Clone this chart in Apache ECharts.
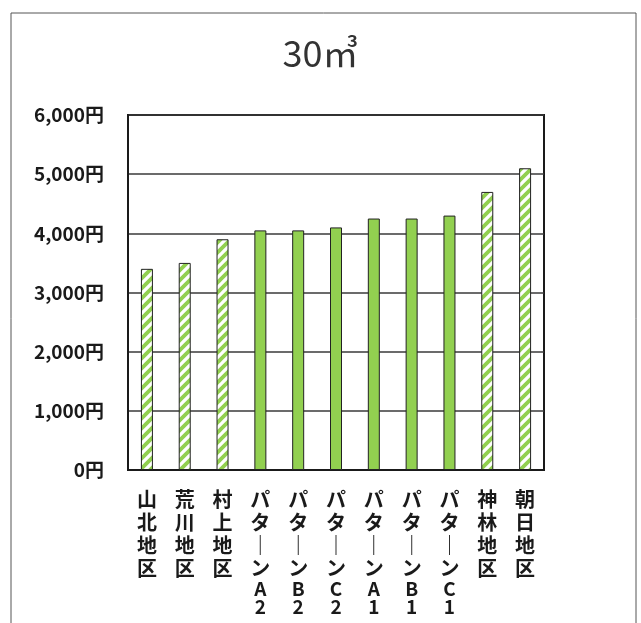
<!DOCTYPE html>
<html>
<head>
<meta charset="utf-8">
<script src="https://cdn.jsdelivr.net/npm/echarts@6/dist/echarts.min.js"></script>
<style>
html,body{margin:0;padding:0;background:#fff;}
#chart{width:641px;height:623px;}
</style>
</head>
<body>
<div id="chart"></div>
<script>
const titleText = '30㎥';
const categories = ['山北地区','荒川地区','村上地区','パターンA2','パターンB2','パターンC2','パターンA1','パターンB1','パターンC1','神林地区','朝日地区'];
const costs = [3400, 3500, 3900, 4050, 4050, 4100, 4250, 4250, 4300, 4700, 5100];
const districtCategories = ['山北地区','荒川地区','村上地区','神林地区','朝日地区'];
const yTicks = [0, 1000, 2000, 3000, 4000, 5000, 6000];

const GREEN = '#92D050';
function stripeCanvas() {
  const c = document.createElement('canvas');
  const s = 10;
  c.width = s; c.height = s;
  const g = c.getContext('2d');
  g.fillStyle = '#ffffff';
  g.fillRect(0, 0, s, s);
  g.strokeStyle = GREEN;
  g.lineWidth = 3.8;
  g.beginPath();
  g.moveTo(-s, s); g.lineTo(s, -s);
  g.moveTo(0, 2*s); g.lineTo(2*s, 0);
  g.moveTo(0, s); g.lineTo(s, 0);
  g.stroke();
  return c;
}
const stripe = stripeCanvas();

const chart = echarts.init(document.getElementById('chart'));
const font = '"Noto Sans CJK JP", "Noto Sans", sans-serif';

chart.setOption({
  backgroundColor: '#ffffff',
  animation: false,
  graphic: [{
    type: 'rect',
    shape: { x: 11, y: 13, width: 625, height: 640 },
    style: { fill: null, stroke: '#555', lineWidth: 1 },
    silent: true, z: -1
  }],
  title: {
    text: titleText,
    left: 'center',
    top: 30,
    textStyle: { fontFamily: font, fontSize: 36, fontWeight: 'normal', color: '#333' }
  },
  grid: {
    left: 128, right: 97, top: 115, bottom: 153,
    show: true, borderColor: '#1a1a1a', borderWidth: 2, backgroundColor: 'transparent'
  },
  xAxis: {
    type: 'category',
    data: categories,
    axisLine: { lineStyle: { color: '#1a1a1a', width: 2 } },
    axisTick: { show: false },
    axisLabel: {
      interval: 0,
      margin: 18,
      color: '#1a1a1a',
      formatter: v => v.replace(/ー/g, '｜').split('')
        .map(ch => (/[A-Za-z0-9]/.test(ch) ? '{a|' + ch + '}' : '{k|' + ch + '}'))
        .join('\n'),
      rich: {
        k: { fontFamily: font, fontSize: 20, fontWeight: 'bold', lineHeight: 23, color: '#1a1a1a' },
        a: { fontFamily: font, fontSize: 19, fontWeight: 'bold', lineHeight: 18, color: '#1a1a1a' }
      }
    }
  },
  yAxis: {
    type: 'value',
    min: yTicks[0],
    max: yTicks[yTicks.length - 1],
    interval: 1000,
    axisLine: { show: true, lineStyle: { color: '#1a1a1a', width: 2 } },
    axisTick: { show: false },
    splitLine: { lineStyle: { color: '#3a3a3a', width: 1.6 } },
    axisLabel: {
      margin: 24,
      fontFamily: font,
      fontSize: 19,
      fontWeight: 'bold',
      color: '#1a1a1a',
      formatter: v => v.toLocaleString('en-US') + '円'
    }
  },
  series: [{
    type: 'bar',
    barWidth: 12,
    data: costs.map((v, i) => ({
      value: v,
      itemStyle: districtCategories.includes(categories[i])
        ? { color: { image: stripe, repeat: 'repeat' }, borderColor: '#222', borderWidth: 1 }
        : { color: GREEN, borderColor: '#222', borderWidth: 1 }
    }))
  }]
});
</script>
</body>
</html>
